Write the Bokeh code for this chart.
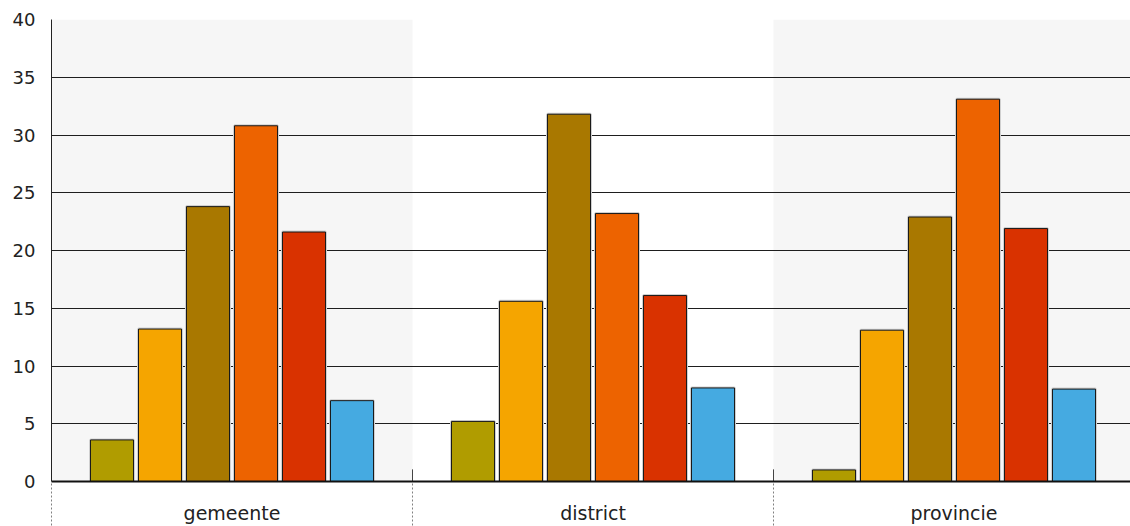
import numpy as np
from bokeh.plotting import figure
from bokeh.models import ColumnDataSource, Range1d, FixedTicker, BoxAnnotation
from bokeh.embed import file_html
from bokeh.resources import INLINE

# ---- data ----
categories = ["gemeente", "district", "provincie"]
series_names = ["reeks 1", "reeks 2", "reeks 3", "reeks 4", "reeks 5", "reeks 6"]
reeks1 = [3.6, 5.2, 1.0]
reeks2 = [13.2, 15.6, 13.1]
reeks3 = [23.8, 31.8, 22.9]
reeks4 = [30.8, 23.2, 33.1]
reeks5 = [21.6, 16.1, 21.9]
reeks6 = [7.0, 8.1, 8.0]
series_values = [reeks1, reeks2, reeks3, reeks4, reeks5, reeks6]
colors = ["#b09c00", "#f5a500", "#a97800", "#ed6300", "#d93200", "#45aae1"]
y_ticks = [0, 5, 10, 15, 20, 25, 30, 35, 40]

FONT = "DejaVu Sans"

# layout constants (pixels)
cat_px = 361.0
frame_w = 1079.0
slot = 48.0 / cat_px
bar_w = 43.0 / cat_px

p = figure(width=1130, height=526, output_backend="svg", toolbar_location=None,
           x_range=Range1d(0, frame_w / cat_px), y_range=Range1d(0, 40),
           min_border_left=51, min_border_right=0, min_border_top=19, min_border_bottom=44)
p.outline_line_color = None
p.background_fill_color = "white"
p.border_fill_color = "white"

# alternating category bands
for i, c in enumerate(categories):
    if i % 2 == 0:
        p.add_layout(BoxAnnotation(left=i, right=i + 1, fill_color="#f6f6f6",
                                   fill_alpha=1.0, line_color=None, level="image"))

# grid
p.xgrid.grid_line_color = None
p.ygrid.ticker = FixedTicker(ticks=y_ticks)
p.ygrid.grid_line_color = "#1e1e1e"
p.ygrid.grid_line_width = 1

# bars
n = len(series_values)
base = np.arange(len(categories)) + 0.5
for i, (name, vals, col) in enumerate(zip(series_names, series_values, colors)):
    xs = base + (i - (n - 1) / 2.0) * slot
    src = ColumnDataSource(dict(x=xs, top=vals, cat=categories))
    p.vbar(x="x", top="top", width=bar_w, bottom=0, source=src, fill_color=None,
           line_color="#d0d0d0", line_width=3)
    p.vbar(x="x", top="top", width=bar_w, bottom=0, source=src, fill_color=col,
           line_color="#1a1a1a", line_width=1)

# small solid ticks at category boundaries inside the plot
bounds = list(range(1, len(categories)))
p.segment(x0=bounds, x1=bounds, y0=[0] * len(bounds), y1=[1.05] * len(bounds),
          line_color="#444444", line_width=1)

# y axis
ya = p.yaxis[0]
ya.ticker = FixedTicker(ticks=y_ticks)
ya.major_tick_line_color = None
ya.minor_tick_line_color = None
ya.major_tick_out = 0
ya.major_tick_in = 0
ya.major_label_standoff = 16
ya.major_label_text_font = FONT
ya.major_label_text_font_size = "18px"
ya.major_label_text_color = "#222222"
ya.axis_line_color = "#222222"
ya.axis_line_width = 1

# x axis
xa = p.xaxis[0]
xa.ticker = FixedTicker(ticks=list(base), minor_ticks=list(range(len(categories) + 1)))
xa.major_label_overrides = {float(b): c for b, c in zip(base, categories)}
xa.major_tick_line_color = None
xa.major_tick_out = 0
xa.major_tick_in = 0
xa.minor_tick_line_color = "#808080"
xa.minor_tick_line_dash = "2 2"
xa.minor_tick_out = 44
xa.minor_tick_in = 0
xa.major_label_standoff = -24
xa.major_label_text_font = FONT
xa.major_label_text_font_size = "19px"
xa.major_label_text_color = "#222222"
xa.axis_line_color = "#111111"
xa.axis_line_width = 2

open("out.html", "w").write(file_html(p, INLINE))
